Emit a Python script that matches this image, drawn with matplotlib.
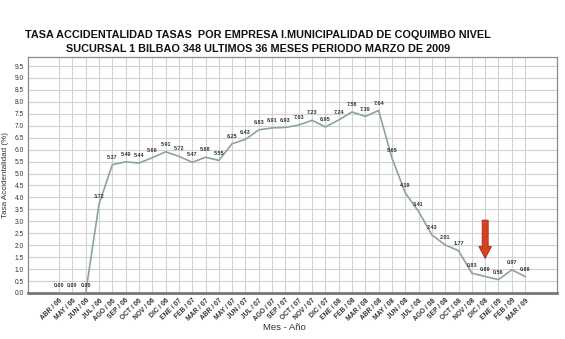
import numpy as np
import matplotlib
matplotlib.use("Agg")
import matplotlib.pyplot as plt
from matplotlib.patches import FancyArrow

plt.rcParams["font.family"] = ["Liberation Sans", "DejaVu Sans"]

months = ["ABR / 06", "MAY / 06", "JUN / 06", "JUL / 06", "AGO / 06", "SEP / 06",
          "OCT / 06", "NOV / 06", "DIC / 06", "ENE / 07", "FEB / 07", "MAR / 07",
          "ABR / 07", "MAY / 07", "JUN / 07", "JUL / 07", "AGO / 07", "SEP / 07",
          "OCT / 07", "NOV / 07", "DIC / 07", "ENE / 08", "FEB / 08", "MAR / 08",
          "ABR / 08", "MAY / 08", "JUN / 08", "JUL / 08", "AGO / 08", "SEP / 08",
          "OCT / 08", "NOV / 08", "DIC / 08", "ENE / 09", "FEB / 09", "MAR / 09"]
tasa = [0.00, 0.00, 0.00, 3.72, 5.37, 5.49, 5.44, 5.66, 5.91, 5.72, 5.47, 5.68,
        5.55, 6.25, 6.43, 6.83, 6.91, 6.93, 7.03, 7.23, 6.95, 7.24, 7.58, 7.39,
        7.64, 5.65, 4.19, 3.41, 2.43, 2.01, 1.77, 0.83, 0.69, 0.56, 0.97, 0.69]
flecha_mes = "DIC / 08"
flecha_y = (3.05, 1.45)  # top and tip of the marker arrow

LINE = "#8da596"
GRID = "#d2d2d2"
TXT = "#333333"

fig = plt.figure(figsize=(5.65, 3.39), dpi=100)
ax = fig.add_axes([0.0496, 0.1357, 0.9364, 0.6963])

x = np.arange(len(months))
ax.plot(x, tasa, color=LINE, lw=1.2, zorder=3)
for xi, v in zip(x, tasa):
    ax.annotate(f"{v:.2f}", (xi, v), xytext=(0, 3.5), textcoords="offset points",
                ha="center", va="bottom", fontsize=3.9, fontweight="bold",
                color=TXT, zorder=4)

ax.set_xlim(-2.33, 37.4)
ax.set_ylim(0, 9.88)
ax.set_xticks(x)
ax.set_xticklabels(months, rotation=45, ha="right", rotation_mode="anchor",
                   fontsize=4.8, fontweight="bold", color=TXT)
yt = np.arange(0, 10, 0.5)
ax.set_yticks(yt)
ax.set_yticklabels([f"{t:.1f}" for t in yt], fontsize=4.8, color=TXT)
ax.tick_params(length=0, pad=3)
ax.grid(True, color=GRID, lw=0.8)
ax.set_axisbelow(True)
for s in ax.spines.values():
    s.set_color("#8c8c8c")
    s.set_linewidth(0.9)
ax.spines["bottom"].set_color("#777777")
ax.spines["bottom"].set_linewidth(2.0)

ax.set_xlabel("Mes - Año", fontsize=6.8, color=TXT)
ax.xaxis.set_label_coords(0.485, -0.125)
ax.set_ylabel("Tasa Accidentalidad (%)", fontsize=5.8, color=TXT, labelpad=4)

# red marker arrow over the highlighted month
xa = months.index(flecha_mes)
ax.add_patch(FancyArrow(xa, flecha_y[0], 0, flecha_y[1] - flecha_y[0],
                        width=0.45, head_width=0.95, head_length=0.5,
                        length_includes_head=True, facecolor="#d9401f",
                        edgecolor="#a02a10", lw=0.6, zorder=5))

fig.text(0.456, 0.888, "TASA ACCIDENTALIDAD TASAS  POR EMPRESA I.MUNICIPALIDAD DE COQUIMBO NIVEL",
         ha="center", fontsize=7.8, fontweight="bold", color="#111111")
fig.text(0.456, 0.846, "SUCURSAL 1 BILBAO 348 ULTIMOS 36 MESES PERIODO MARZO DE 2009",
         ha="center", fontsize=7.8, fontweight="bold", color="#111111")

fig.savefig("out.png", dpi=100)
